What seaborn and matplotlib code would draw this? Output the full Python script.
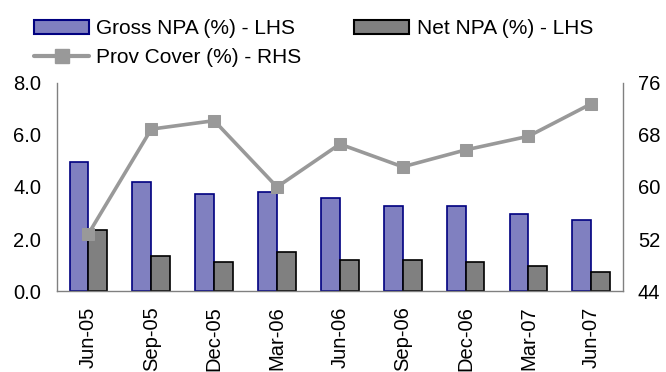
import numpy as np
import pandas as pd
import matplotlib
matplotlib.use('Agg')
import matplotlib.pyplot as plt
import seaborn as sns
from matplotlib.patches import Patch
from matplotlib.lines import Line2D

quarters = ['Jun-05', 'Sep-05', 'Dec-05', 'Mar-06', 'Jun-06',
            'Sep-06', 'Dec-06', 'Mar-07', 'Jun-07']
gross_npa = [4.95, 4.19, 3.72, 3.79, 3.59, 3.26, 3.26, 2.96, 2.73]
net_npa = [2.33, 1.36, 1.10, 1.50, 1.18, 1.18, 1.10, 0.95, 0.74]
prov_cover = [52.8, 68.9, 70.2, 60.0, 66.6, 63.1, 65.7, 67.8, 72.8]

lbl_gross = 'Gross NPA (%) - LHS'
lbl_net = 'Net NPA (%) - LHS'
lbl_prov = 'Prov Cover (%) - RHS'

df = pd.DataFrame({
    'Quarter': quarters * 2,
    'Metric': [lbl_gross] * len(quarters) + [lbl_net] * len(quarters),
    'Value': gross_npa + net_npa,
})

sns.set_style('white')
plt.rcParams['font.family'] = ['Liberation Sans', 'DejaVu Sans']
plt.rcParams['font.size'] = 14.5
plt.rcParams['text.color'] = 'black'
plt.rcParams['xtick.color'] = 'black'
plt.rcParams['ytick.color'] = 'black'

fig = plt.figure(figsize=(6.66, 3.72), dpi=100)
ax = fig.add_axes([0.0856, 0.2177, 0.8494, 0.5593])

# bars on the left axis
sns.barplot(data=df, x='Quarter', y='Value', hue='Metric',
            hue_order=[lbl_gross, lbl_net],
            palette=['#8080C0', '#808080'], width=0.6,
            saturation=1, legend=False, ax=ax)
edge_cols = ['#000080', '#000000']
for cont, ec in zip(ax.containers, edge_cols):
    for p in cont:
        p.set_edgecolor(ec)
        p.set_linewidth(1.2)

ax.set_ylim(0, 8)
ax.set_yticks(np.arange(0, 8.1, 2))
ax.set_yticklabels([f'{v:.1f}' for v in np.arange(0, 8.1, 2)])
ax.set_xlim(-0.5, len(quarters) - 0.5)
ax.set_xlabel('')
ax.set_ylabel('')
ax.tick_params(axis='x', rotation=90, length=0, pad=11)
ax.tick_params(axis='y', length=0, pad=11.5)
for s in ['top', 'right']:
    ax.spines[s].set_visible(False)
for s in ['left', 'bottom']:
    ax.spines[s].set_color('#808080')
    ax.spines[s].set_linewidth(1)

# provision cover on the right axis
ax2 = ax.twinx()
sns.lineplot(x=np.arange(len(quarters)), y=prov_cover, ax=ax2,
             color='#999999', linewidth=2.6, marker='s', markersize=9,
             markeredgecolor='#999999')
ax2.set_ylim(44, 76)
ax2.set_yticks([44, 52, 60, 68, 76])
ax2.set_xlim(-0.5, len(quarters) - 0.5)
ax2.tick_params(axis='y', length=0, pad=11)
for s in ['top', 'left', 'bottom']:
    ax2.spines[s].set_visible(False)
ax2.spines['right'].set_color('#808080')
ax2.spines['right'].set_linewidth(1)

handles = [
    Patch(facecolor='#8080C0', edgecolor='#000080', linewidth=1.5),
    Line2D([], [], color='#999999', linewidth=3, marker='s',
           markersize=9.5, markeredgecolor='#999999'),
    Patch(facecolor='#808080', edgecolor='#000000', linewidth=1.5),
]
fig.legend(handles, [lbl_gross, lbl_prov, lbl_net], ncol=2,
           loc='upper left', bbox_to_anchor=(34 / 666, 1 - 19 / 372),
           frameon=False, fontsize=15, handlelength=2.64, handleheight=0.67,
           handletextpad=0.34, columnspacing=2.55, labelspacing=0.5,
           borderpad=0, borderaxespad=0)

fig.savefig('out.png', dpi=100)
